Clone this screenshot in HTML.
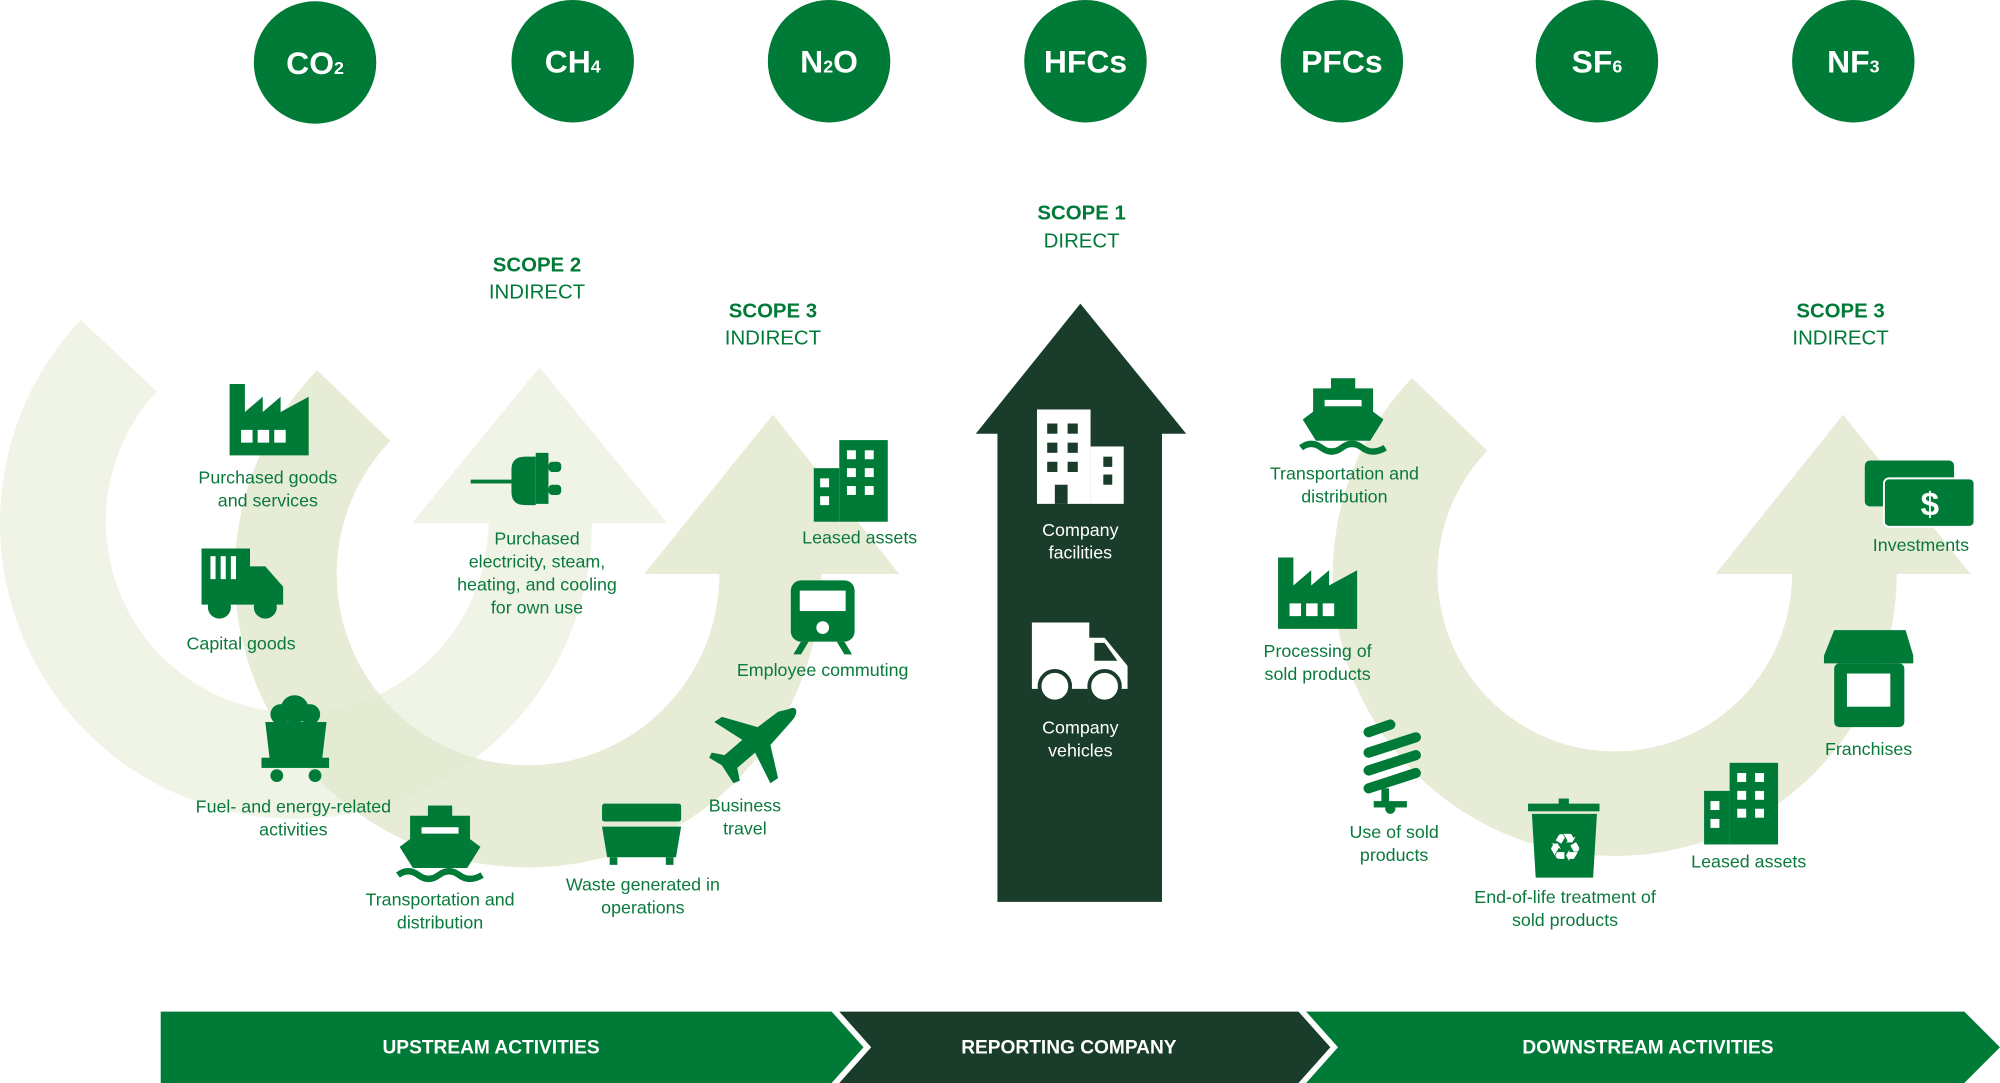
<!DOCTYPE html>
<html><head><meta charset="utf-8"><style>
html,body{margin:0;padding:0;background:#fff;}
svg{display:block;}
text{font-family:"Liberation Sans",sans-serif;}
</style></head><body>
<svg width="2000" height="1083" viewBox="0 0 1568 849" preserveAspectRatio="none" xmlns="http://www.w3.org/2000/svg">
<!-- pale arcs -->
<g fill="#e2e9cf">
<path d="M63.3 250.6 A232 232 0 1 0 464 410 L383 410 A150 150 0 1 1 122.9 306.9 Z" opacity="0.5"/>
<polygon points="323,410 523,410 423,288" opacity="0.5"/>
<path d="M248.6 290.2 A230 230 0 1 0 644 450 L564 450 A150 150 0 1 1 306.1 345.7 Z" opacity="0.85"/>
<polygon points="505,450 705,450 606,325" opacity="0.85"/>
<path d="M1107.1 296.4 A221 221 0 1 0 1487 450 L1405 450 A139 139 0 1 1 1166.1 353.4 Z" opacity="0.85"/>
<polygon points="1345,450 1545,450 1445,325" opacity="0.85"/>
</g>
<!-- big dark arrow -->
<polygon points="782,707 782,340 765,340 847,238 930,340 911,340 911,707" fill="#1a3c2a"/>
<!-- gas circles -->
<g fill="#007a37">
<circle cx="247" cy="49" r="48"/><circle cx="449" cy="48" r="48"/><circle cx="650" cy="48" r="48"/>
<circle cx="851" cy="48" r="48"/><circle cx="1052" cy="48" r="48"/><circle cx="1252" cy="48" r="48"/><circle cx="1453" cy="48" r="48"/>
</g>
<g fill="#fff" font-weight="bold" font-size="25" text-anchor="middle">
<text x="247" y="58">CO<tspan font-size="14">2</tspan></text>
<text x="449" y="57">CH<tspan font-size="14">4</tspan></text>
<text x="650" y="57">N<tspan font-size="14">2</tspan>O</text>
<text x="851" y="57">HFCs</text>
<text x="1052" y="57">PFCs</text>
<text x="1252" y="57">SF<tspan font-size="14">6</tspan></text>
<text x="1453" y="57">NF<tspan font-size="14">3</tspan></text>
</g>
<!-- scope labels -->
<g fill="#007a37" font-size="16" text-anchor="middle">
<text x="421" y="213" font-weight="bold">SCOPE 2</text><text x="421" y="234">INDIRECT</text>
<text x="606" y="249" font-weight="bold">SCOPE 3</text><text x="606" y="270">INDIRECT</text>
<text x="848" y="172" font-weight="bold">SCOPE 1</text><text x="848" y="194">DIRECT</text>
<text x="1443" y="249" font-weight="bold">SCOPE 3</text><text x="1443" y="270">INDIRECT</text>
</g>
<!-- labels -->
<g fill="#0a7a3c" font-size="14" text-anchor="middle">
<text x="210" y="379">Purchased goods</text><text x="210" y="397">and services</text>
<text x="189" y="509">Capital goods</text>
<text x="230" y="637">Fuel- and energy-related</text><text x="230" y="655">activities</text>
<text x="345" y="710">Transportation and</text><text x="345" y="728">distribution</text>
<text x="504" y="698">Waste generated in</text><text x="504" y="716">operations</text>
<text x="584" y="636">Business</text><text x="584" y="654">travel</text>
<text x="645" y="530">Employee commuting</text>
<text x="674" y="426">Leased assets</text>
<text x="421" y="427">Purchased</text><text x="421" y="445">electricity, steam,</text><text x="421" y="463">heating, and cooling</text><text x="421" y="481">for own use</text>
<text x="1054" y="376">Transportation and</text><text x="1054" y="394">distribution</text>
<text x="1033" y="515">Processing of</text><text x="1033" y="533">sold products</text>
<text x="1093" y="657">Use of sold</text><text x="1093" y="675">products</text>
<text x="1227" y="708">End-of-life treatment of</text><text x="1227" y="726">sold products</text>
<text x="1371" y="680">Leased assets</text>
<text x="1465" y="592">Franchises</text>
<text x="1506" y="432">Investments</text>
</g>
<g fill="#fff" font-size="14" text-anchor="middle">
<text x="847" y="420">Company</text><text x="847" y="438">facilities</text>
<text x="847" y="575">Company</text><text x="847" y="593">vehicles</text>
</g>
<!-- icons -->
<defs>
<g id="factory"><path d="M0 0H12V22L26 10V22L40 10V22L62 10V56H0Z"/><g fill="#fff"><rect x="9" y="36" width="9" height="10"/><rect x="22" y="36" width="9" height="10"/><rect x="35" y="36" width="9" height="10"/></g></g>
<g id="ship"><rect x="24" y="0" width="18" height="8"/><path d="M10 8H56V26L64 32 54 48H12L2 32 10 26Z"/><rect x="18" y="16" width="30" height="6" fill="#fff"/><path d="M0 54 Q8 48 16 54 T32 54 T48 54 T66 54" fill="none" stroke-width="5" stroke="inherit"/></g>
<g id="building"><rect x="0" y="22" width="20" height="42"/><rect x="20" y="0" width="38" height="64"/><g fill="#fff"><rect x="26" y="8" width="7" height="7"/><rect x="40" y="8" width="7" height="7"/><rect x="26" y="22" width="7" height="7"/><rect x="40" y="22" width="7" height="7"/><rect x="26" y="36" width="7" height="7"/><rect x="40" y="36" width="7" height="7"/><rect x="5" y="30" width="7" height="7"/><rect x="5" y="44" width="7" height="7"/></g></g>
</defs>
<g fill="#007a37" stroke="#007a37">
<use href="#factory" x="180" y="301" stroke="none"/>
<use href="#factory" x="1002" y="437" stroke="none"/>
<use href="#ship" x="312" y="632"/>
<use href="#ship" x="1020" y="297"/>
<use href="#building" x="638" y="345" stroke="none"/>
<use href="#building" x="1336" y="598" stroke="none"/>
</g>
<g fill="#007a37">
<!-- truck -->
<path d="M158 430H196V444H208L222 460V474H158Z"/><circle cx="172" cy="476" r="9"/><circle cx="208" cy="476" r="9"/>
<g fill="#fff"><rect x="165" y="436" width="4" height="18"/><rect x="173" y="436" width="4" height="18"/><rect x="181" y="436" width="4" height="18"/></g>
<!-- coal cart -->
<circle cx="231" cy="556" r="11"/><circle cx="220" cy="560" r="8"/><circle cx="243" cy="560" r="8"/>
<path d="M208 566H256L252 600H212Z"/><rect x="205" y="594" width="53" height="8"/><circle cx="217" cy="608" r="5"/><circle cx="247" cy="608" r="5"/>
<!-- dumpster -->
<rect x="472" y="630" width="62" height="14" rx="2"/><path d="M472 648H534L530 672H476Z"/><rect x="478" y="672" width="6" height="6"/><rect x="522" y="672" width="6" height="6"/>
<!-- plane -->
<path d="M618 556 C626 552 626 560 620 566 L604 584 610 610 604 614 592 590 578 602 580 612 575 614 566 600 556 594 558 590 568 592 582 580 560 566 566 562 594 570 610 558Z"/>
<!-- train -->
<rect x="620" y="455" width="50" height="48" rx="8"/><rect x="627" y="463" width="36" height="16" fill="#fff"/><circle cx="645" cy="492" r="5" fill="#fff"/><path d="M628 503 L622 513H628L634 503ZM662 503L668 513H662L656 503Z"/>
<!-- plug -->
<rect x="369" y="376" width="32" height="3"/><path d="M401 368Q401 358 412 358H420V396H412Q401 396 401 386Z"/><rect x="420" y="355" width="10" height="40"/><rect x="430" y="362" width="10" height="8" rx="3"/><rect x="430" y="380" width="10" height="8" rx="3"/>
<!-- bulb -->
<g stroke="#007a37" stroke-width="8" stroke-linecap="round" fill="none"><path d="M1073 574L1090 568M1073 590L1110 578M1073 604L1110 592M1073 618L1110 606"/></g>
<rect x="1083" y="618" width="6" height="12"/><rect x="1077" y="628" width="26" height="5"/><circle cx="1090" cy="634" r="4"/>
<!-- recycle bin -->
<rect x="1198" y="630" width="56" height="6"/><rect x="1222" y="626" width="8" height="6"/><path d="M1201 638H1252L1249 688H1204Z"/>
<text x="1227" y="675" fill="#fff" font-size="30" text-anchor="middle">♻</text>
<!-- franchise -->
<path d="M1438 494H1494L1500 514V520H1430V514Z"/><rect x="1438" y="520" width="55" height="50" rx="4"/><rect x="1448" y="528" width="34" height="26" fill="#fff"/>
<!-- money -->
<rect x="1462" y="361" width="70" height="36" rx="4"/><rect x="1477" y="375" width="71" height="38" rx="4" stroke="#fff" stroke-width="1.5"/>
<text x="1513" y="404" fill="#fff" font-size="26" font-weight="bold" text-anchor="middle">$</text>
</g>
<!-- company white icons -->
<g fill="#fff">
<rect x="813" y="321" width="42" height="74"/><rect x="855" y="350" width="26" height="45"/>
<g fill="#1a3c2a"><rect x="821" y="332" width="8" height="8"/><rect x="837" y="332" width="8" height="8"/><rect x="821" y="347" width="8" height="8"/><rect x="837" y="347" width="8" height="8"/><rect x="821" y="362" width="8" height="8"/><rect x="837" y="362" width="8" height="8"/><rect x="865" y="358" width="7" height="8"/><rect x="865" y="372" width="7" height="8"/><rect x="827" y="380" width="10" height="15"/></g>
<path d="M809 488H854V500H866L884 522V540H809Z"/>
<circle cx="827" cy="538" r="12" stroke="#1a3c2a" stroke-width="3"/><circle cx="866" cy="538" r="12" stroke="#1a3c2a" stroke-width="3"/>
<path d="M858 504H866L876 518H858Z" fill="#1a3c2a"/>
</g>
<!-- bottom bar -->
<polygon points="126,793 652,793 677,821 652,849 126,849" fill="#007a37"/>
<polygon points="658,793 1018,793 1043,821 1018,849 658,849 683,821" fill="#1a3c2a"/>
<polygon points="1024,793 1540,793 1568,821 1540,849 1024,849 1049,821" fill="#007a37"/>
<g fill="#fff" font-size="15" font-weight="bold" text-anchor="middle">
<text x="385" y="826">UPSTREAM ACTIVITIES</text>
<text x="838" y="826">REPORTING COMPANY</text>
<text x="1292" y="826">DOWNSTREAM ACTIVITIES</text>
</g>
</svg>
</body></html>
